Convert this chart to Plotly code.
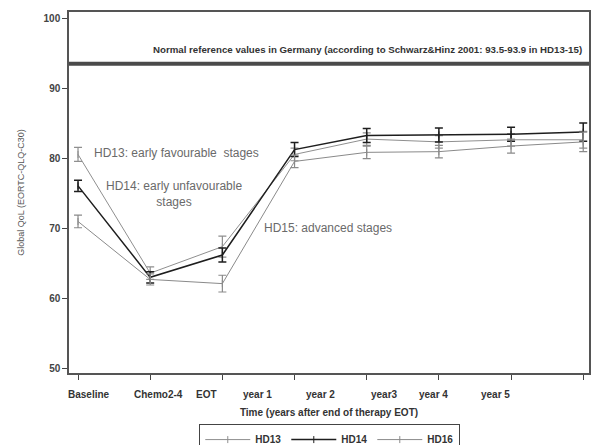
import plotly.graph_objects as go

# ---- data ----
time_labels = ["Baseline", "Chemo2-4", "EOT", "year 1", "year 2", "year3", "year 4", "year 5"]
time_index = [0, 1, 2, 3, 4, 5, 6, 7]

hd13 = [80.6, 63.6, 67.4, 80.6, 82.8, 82.4, 82.7, 82.7]
hd13_err = [1.0, 0.9, 1.5, 0.9, 0.9, 0.9, 0.9, 1.2]
hd14 = [76.1, 63.0, 66.2, 81.3, 83.3, 83.4, 83.5, 83.8]
hd14_err = [0.8, 0.8, 1.0, 1.0, 1.0, 1.0, 1.0, 1.3]
hd16 = [71.0, 62.7, 62.1, 79.6, 80.9, 81.0, 81.8, 82.4]
hd16_err = [0.9, 0.8, 1.2, 0.9, 0.9, 0.9, 1.0, 1.4]

series_names = ["HD13", "HD14", "HD16"]
reference_value = 93.6
y_ticks = [50, 60, 70, 80, 90, 100]

# ---- layout constants ----
# tick label centres (paper fraction of plot width); labels sit left of their tick marks
label_paper_x = [-0.006, 0.121, 0.240, 0.363, 0.484, 0.607, 0.732, 0.852]
colors = ["#8f8f8f", "#1e1e1e", "#8a8a8a"]
widths = [1, 1.5, 1]
FONT = "Liberation Sans"

fig = go.Figure()
for name, vals, errs, col, w in zip(series_names, [hd13, hd14, hd16],
                                    [hd13_err, hd14_err, hd16_err], colors, widths):
    fig.add_trace(go.Scatter(
        x=time_index, y=vals, name=name, mode="lines+markers",
        line=dict(color=col, width=w),
        marker=dict(symbol="line-ns-open", size=5, color=col, line=dict(width=1, color=col)),
        error_y=dict(type="data", array=errs, visible=True, color=col,
                     thickness=1.5 if name == "HD14" else 1.2, width=4),
    ))

fig.add_shape(type="line", xref="paper", x0=0, x1=1, yref="y",
              y0=reference_value, y1=reference_value,
              line=dict(color="#4a4a4a", width=4))

annotations = [
    dict(x=0.99, xref="paper", xanchor="right", y=reference_value + 1.0, yref="y", yanchor="bottom",
         text="Normal reference values in Germany (according to Schwarz&Hinz 2001: 93.5-93.9 in HD13-15)",
         font=dict(size=9.7, color="#333", family=FONT, weight="bold"), showarrow=False),
    dict(x=0.2, xref="x", xanchor="left", y=80.8, yref="y",
         text="HD13: early favourable  stages", font=dict(size=12, color="#6a6a6a", family=FONT),
         showarrow=False),
    dict(x=1.33, xref="x", xanchor="center", y=74.9, yref="y",
         text="HD14: early unfavourable<br>stages", font=dict(size=12, color="#6a6a6a", family=FONT),
         showarrow=False),
    dict(x=3.47, xref="x", xanchor="center", y=70.1, yref="y",
         text="HD15: advanced stages", font=dict(size=12, color="#6a6a6a", family=FONT),
         showarrow=False),
]
for lab, px in zip(time_labels, label_paper_x):
    annotations.append(dict(x=px, xref="paper", y=-0.06, yref="paper",
                            yanchor="middle", text=lab, showarrow=False,
                            font=dict(size=10, color="#333", family=FONT, weight="bold")))

fig.update_layout(
    width=591, height=445,
    margin=dict(l=69, r=2, t=12, b=72, autoexpand=False),
    paper_bgcolor="white", plot_bgcolor="white",
    font=dict(family=FONT, color="#333"),
    showlegend=True,
    legend=dict(orientation="h", x=0.558, xanchor="center", xref="container",
                y=0.047, yanchor="top", yref="container",
                bordercolor="#444", borderwidth=1,
                font=dict(size=10, color="#333", weight="bold"),
                itemwidth=45, tracegroupgap=0),
    annotations=annotations,
    xaxis=dict(range=[-0.125, 7.08], tickvals=time_index, showticklabels=False,
               ticks="outside", ticklen=5, tickcolor="#444", showline=True, linecolor="#555",
               linewidth=1.5, mirror=True, showgrid=False, zeroline=False, automargin=False,
               title=dict(text="Time (years after end of therapy EOT)",
                          font=dict(size=10, color="#333", weight="bold"), standoff=30)),
    yaxis=dict(range=[49.3, 101], tickvals=y_ticks, ticks="outside", ticklen=5,
               tickcolor="#444", showline=True, linecolor="#555", linewidth=1.5, mirror=True,
               showgrid=False, zeroline=False, automargin=False,
               tickfont=dict(size=10, color="#444", weight="bold"),
               title=dict(text="Global QoL (EORTC-QLQ-C30)", font=dict(size=9, color="#555"),
                          standoff=17)),
)

fig.write_html("out.html", config={"displayModeBar": False},
               post_script="document.body.style.margin='0';")
